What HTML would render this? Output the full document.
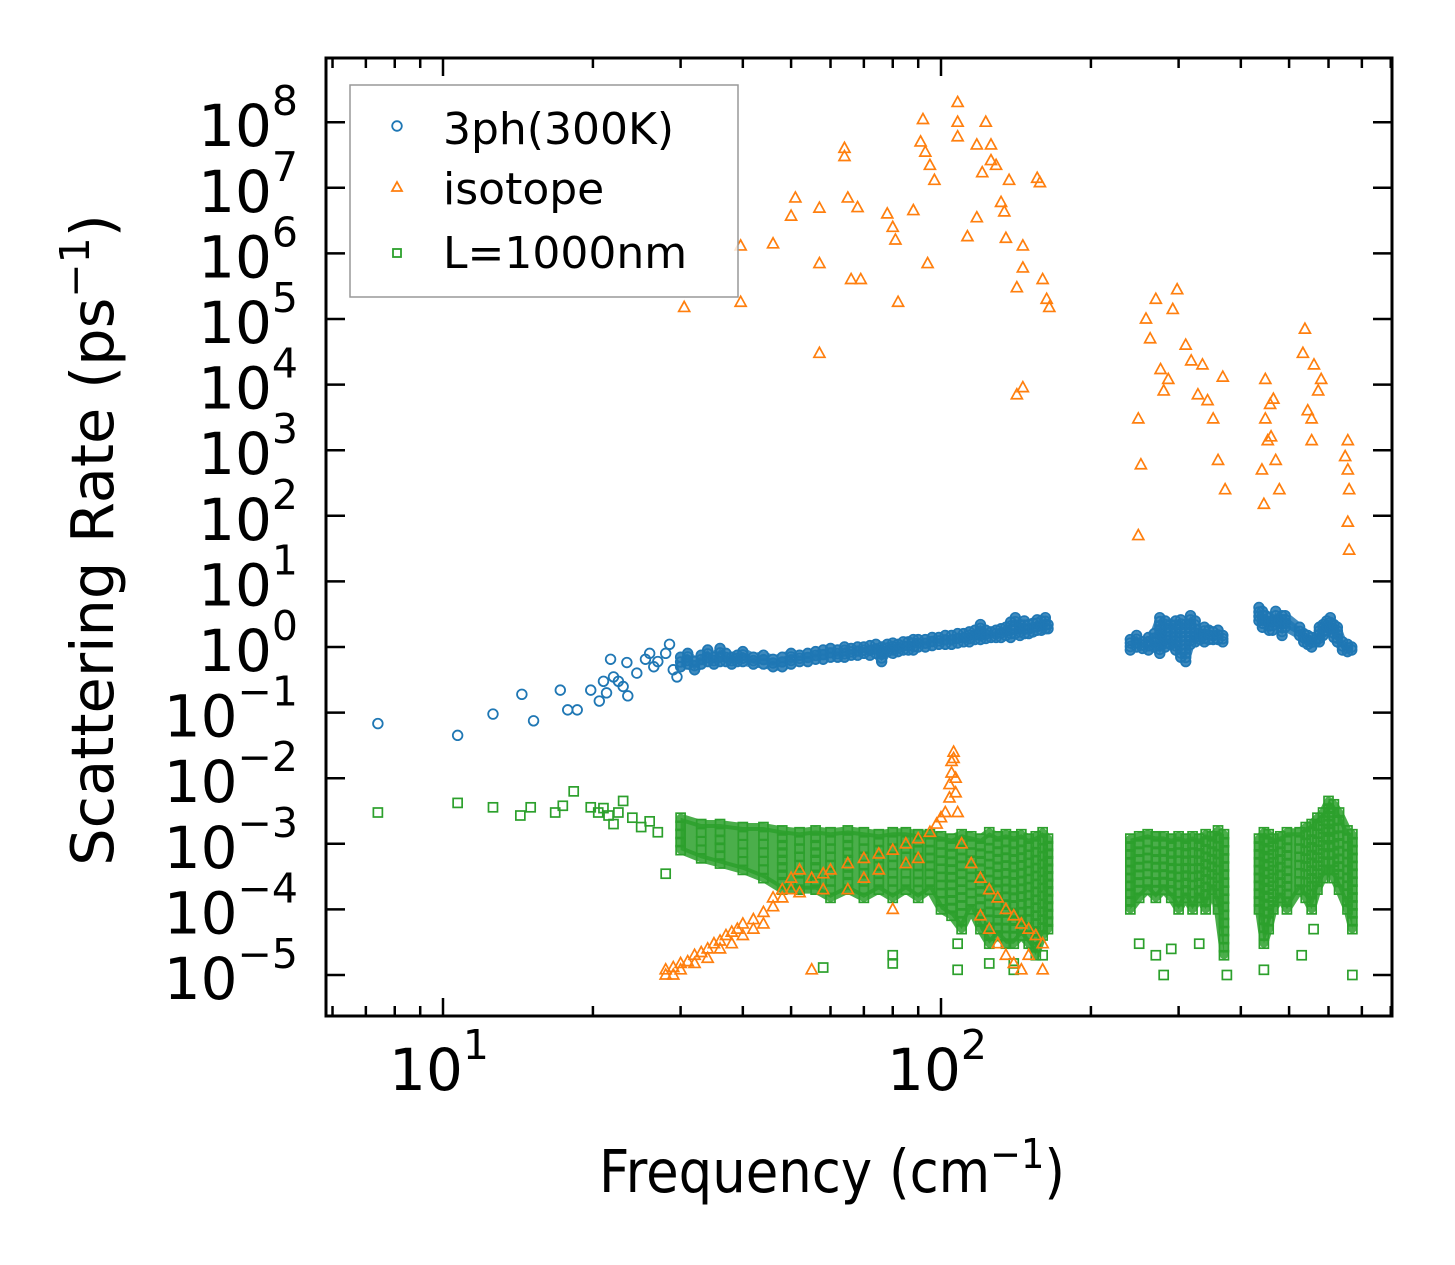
<!DOCTYPE html>
<html><head><meta charset="utf-8"><style>
html,body{margin:0;padding:0;background:#fff;}
svg{display:block;font-family:"DejaVu Sans","Liberation Sans",sans-serif;}
</style></head><body>
<svg id="chart" width="1455" height="1265" viewBox="0 0 1455 1265" xmlns="http://www.w3.org/2000/svg">
<rect width="1455" height="1265" fill="#fff"/>
<g id="plot"></g>
<g id="axes"></g>
<text x="599" y="1192" font-size="59" textLength="466" lengthAdjust="spacingAndGlyphs">Frequency (cm<tspan dy="-24" font-size="41">−1</tspan><tspan dy="24">)</tspan></text>
<text transform="translate(113,540) rotate(-90)" text-anchor="middle" font-size="59">Scattering Rate (ps<tspan dy="-24" font-size="41">−1</tspan><tspan dy="24">)</tspan></text>
<g>
<rect x="350" y="85" width="388" height="212" fill="#fff" fill-opacity="0.8" stroke="#999" stroke-width="1.5"/>
<circle cx="397" cy="126" r="4.8" fill="none" stroke="#1f77b4" stroke-width="1.8"/>
<text x="443" y="144" font-size="44">3ph(300K)</text>
<path d="M397,182 L402,191 L392,191 Z" fill="none" stroke="#ff7f0e" stroke-width="1.8"/>
<text x="443" y="204" font-size="44">isotope</text>
<rect x="393" y="249" width="8" height="8" fill="none" stroke="#2ca02c" stroke-width="1.8"/>
<text x="443" y="268" font-size="44">L=1000nm</text>
</g>
</svg>
<script>
// ---- data ----
const blueFreq = [7.4,10.7,12.6,14.4,15.2,17.2,17.8,18.6,19.8,20.6,21,21.3,21.7,22,22.5,23,23.4,23.5,24.5,25.5,26,26.5,27,28,28.5,29,29.5];
const blueRate = [0.068,0.045,0.095,0.19,0.075,0.22,0.11,0.11,0.22,0.15,0.3,0.2,0.65,0.35,0.3,0.25,0.58,0.18,0.4,0.65,0.8,0.5,0.6,0.8,1.1,0.45,0.35];
const blueBandFreq = [30,31,32,33,34,35,36,37,38,39,40,42,44,46,48,50,52,54,56,58,60,62,64,66,68,70,72,74,76,78,80,82,84,86,88,90,93,96,99,102,105,108,111,114,117,120,123,126,129,132,135,138,141,144,147,150,153,156,159,162,164,
 240,247,254,261,268,275,282,289,296,303,310,317,324,331,338,345,352,360,368,
 435,442,449,456,463,470,477,484,491,
 525,535,545,555,565,575,585,595,605,615,625,640,655,668];
const blueBandLo = [0.5,0.55,0.45,0.55,0.6,0.55,0.6,0.6,0.55,0.6,0.6,0.55,0.55,0.5,0.5,0.55,0.6,0.6,0.65,0.65,0.7,0.7,0.7,0.75,0.75,0.8,0.75,0.8,0.6,0.85,0.8,0.85,0.9,0.9,0.9,1,1,1.05,1.1,1.1,1.1,1.15,1.2,1.2,1.3,1.3,1.35,1.4,1.4,1.4,1.5,1.4,1.6,1.5,1.6,1.6,1.7,1.8,1.8,1.9,1.9,
 0.9,1,0.95,0.9,1,0.8,1,1.1,0.9,0.7,0.6,1.1,1.2,1.3,1.2,1.3,1.3,1.3,1.2,
 2.5,2,2.5,1.8,1.8,2.2,2.3,1.5,2,
 1.5,1.2,1.1,1,1.2,1.2,1.5,1.8,2,1.4,1.2,0.9,0.85,0.9];
const blueBandHi = [0.7,0.8,0.6,0.75,0.9,0.7,0.95,0.8,0.7,0.75,0.85,0.7,0.75,0.65,0.7,0.8,0.75,0.8,0.85,0.9,0.95,0.9,1,0.95,1,1,1.05,1.1,1,1.1,1.15,1.1,1.2,1.2,1.3,1.3,1.3,1.4,1.4,1.5,1.5,1.6,1.6,1.7,1.8,2.2,1.8,1.7,1.8,1.9,2,2.4,2.8,2.2,2.5,2.2,2.3,2.6,2.5,2.8,2.2,
 1.3,1.5,1.2,1.4,1.6,2.8,2.5,2.2,2.5,2.6,2.2,3,2.5,1.6,2,1.8,1.7,1.8,1.5,
 4,3.5,3,2.8,2.5,3.5,2.5,3,3,
 2,1.6,1.5,1.4,1.3,2,2.2,2.5,2.8,2.2,2,1.2,1.1,1];

const isoFreq = [30.5,39.6,39.6,46,50,51,57,57,57,64,64,65,66,68,69,78,80,81,82,88,91,92,93,94,95,97,108,108,108,113,118,121,123,126,129,132,134,135,137,142,146,146,142,146,156,158,160,163,165,118,126,
 249,249,252,258,263,270,276,280,286,292,298,310,318,328,335,343,352,360,368,372,
 448,448,453,441,445,460,470,478,465,458,
 533,538,545,555,561,572,580,555,656,656,660,656,660,648,
 28,28,29,29,30,30,31,32,32,33,34,34,35,36,36,37,38,38,39,40,40,42,42,44,44,46,46,48,48,50,50,52,52,55,55,58,58,60,65,65,70,70,75,75,80,80,85,85,90,90,95,98,100,102,104,104,105,105,106,106,107,107,108,110,115,120,120,125,125,130,130,135,135,140,140,145,145,150,150,155,160,160];
const isoRate = [1.5e5,1.3e6,1.8e5,1.4e6,3.7e6,7e6,4.9e6,7e5,3e4,4e7,3e7,7e6,4e5,5e6,4e5,4e6,2.5e6,1.6e6,1.8e5,4.5e6,5e7,1.1e8,3.5e7,7e5,2.2e7,1.3e7,2e8,1e8,6e7,1.8e6,3.5e6,1.7e7,1e8,4.5e7,2.2e7,6e6,4.3e6,1.7e6,1.3e7,3e5,1.3e6,6e5,7e3,9e3,1.4e7,1.2e7,4e5,2e5,1.5e5,4.5e7,2.6e7,
 3e3,50,600,1e5,5e4,2e5,1.7e4,8e3,1.2e4,1.4e5,2.8e5,4e4,2.3e4,7e3,2e4,5.7e3,3e3,700,1.3e4,250,
 1.2e4,3e3,1.4e3,500,150,1.6e3,700,250,6e3,5e3,
 3e4,7e4,4e3,3e3,2e4,8e3,1.2e4,1.4e3,1.4e3,500,250,80,30,800,
 1e-5,1.2e-5,1.3e-5,1e-5,1.5e-5,1.2e-5,1.6e-5,2e-5,1.5e-5,2.2e-5,2.5e-5,1.8e-5,3e-5,3.3e-5,2.5e-5,4e-5,4.5e-5,3e-5,5e-5,6e-5,4e-5,7e-5,5e-5,9e-5,6e-5,1.1e-4,1.5e-4,1.5e-4,2e-4,2e-4,3e-4,1.8e-4,4e-4,3e-4,1.2e-5,3.5e-4,2e-4,4e-4,5e-4,2e-4,6e-4,3e-4,7e-4,4e-4,8e-4,1e-4,1e-3,5e-4,1.2e-3,6e-4,1.5e-3,2e-3,2.5e-3,3e-3,5e-3,8e-3,1.2e-2,1.8e-2,2.5e-2,2e-2,1e-2,6e-3,3e-3,1e-3,5e-4,3e-4,8e-5,2e-4,5e-5,1.5e-4,3e-5,1e-4,2e-5,8e-5,1.5e-5,6e-5,1.2e-5,5e-5,2e-5,4e-5,1.2e-5,3e-5];

const bndFreq = [7.4,10.7,12.6,14.3,15,16.8,17.4,18.3,19.8,20.5,21,21.5,22,22.5,23,24,25,26,27,28,
 58,80,80,108,108,125,140,140,160,250,270,280,290,330,375,445,530,560,670];
const bndRate = [3e-3,4.2e-3,3.6e-3,2.7e-3,3.6e-3,3e-3,3.8e-3,6.3e-3,3.6e-3,3e-3,3.5e-3,2.7e-3,2e-3,3e-3,4.5e-3,2.5e-3,1.8e-3,2.2e-3,1.5e-3,3.5e-4,
 1.3e-5,1.5e-5,2e-5,1.2e-5,3e-5,1.5e-5,1.2e-5,1.5e-5,2e-5,3e-5,2e-5,1e-5,2.5e-5,3e-5,1e-5,1.2e-5,2e-5,5e-5,1e-5];
const bndBandFreq = [30,33,36,40,44,48,52,56,60,65,70,75,80,85,90,95,100,105,110,115,120,125,130,135,140,145,150,155,160,164,
 240,250,260,270,280,290,300,310,320,330,340,350,360,370,
 435,445,455,465,480,495,
 525,540,555,570,585,600,615,630,655,670];
const bndBandLo = [8e-4,6e-4,5e-4,4e-4,3e-4,2e-4,2e-4,2e-4,1.5e-4,2e-4,1.5e-4,2e-4,1.5e-4,2e-4,1.5e-4,2e-4,1e-4,8e-5,5e-5,1e-4,5e-5,3e-5,4e-5,3e-5,3e-5,4e-5,3e-5,2e-5,4e-5,5e-5,
 1e-4,1.5e-4,2e-4,1.5e-4,2e-4,1.5e-4,1e-4,1.5e-4,1e-4,1.5e-4,1e-4,2e-4,1e-4,2e-5,
 1e-4,3e-5,5e-5,1e-4,1.5e-4,1e-4,
 2e-4,1.5e-4,1e-4,2e-4,3e-4,4e-4,3e-4,2e-4,1e-4,5e-5];
const bndBandHi = [2.5e-3,2e-3,2e-3,1.8e-3,1.8e-3,1.6e-3,1.5e-3,1.6e-3,1.5e-3,1.6e-3,1.5e-3,1.4e-3,1.5e-3,1.5e-3,1.4e-3,1.4e-3,1.3e-3,1.2e-3,1.4e-3,1.3e-3,1.2e-3,1.5e-3,1.3e-3,1.4e-3,1.3e-3,1.4e-3,1.2e-3,1.3e-3,1.5e-3,1.2e-3,
 1.2e-3,1.3e-3,1.4e-3,1.3e-3,1.3e-3,1.2e-3,1.3e-3,1.2e-3,1.3e-3,1.2e-3,1.4e-3,1.3e-3,1.6e-3,1.4e-3,
 1.2e-3,1.5e-3,1.4e-3,1.2e-3,1.3e-3,1.5e-3,
 1.5e-3,1.8e-3,2e-3,2.5e-3,3e-3,4.5e-3,4e-3,3e-3,1.6e-3,1.4e-3];

const yTickExp = [-5,-4,-3,-2,-1,0,1,2,3,4,5,6,7,8];
const xTickExp = [1,2];

// ---- scales ----
const X0=326, X1=1392, Y0=58, Y1=1016;
function X(f){return 443+498*Math.log10(f/10);}
function Y(v){return 647-65.6*Math.log10(v);}
const NS="http://www.w3.org/2000/svg";
const plot=document.getElementById('plot');
const axes=document.getElementById('axes');
function mk(tag,attrs,parent){const e=document.createElementNS(NS,tag);for(const k in attrs)e.setAttribute(k,attrs[k]);parent.appendChild(e);return e;}

const C_B="#1f77b4", C_O="#ff7f0e", C_G="#2ca02c";
function circle(f,v){const e=mk('circle',{cx:X(f),cy:Y(v),r:4.8,fill:'none',stroke:C_B,'stroke-width':1.8},plot);

}
function tri(f,v){const x=X(f),y=Y(v);const e=mk('path',{d:`M${x},${y-6} L${x+5.5},${y+4} L${x-5.5},${y+4} Z`,fill:'none',stroke:C_O,'stroke-width':1.7},plot);

}
function sq(f,v){const e=mk('rect',{x:X(f)-4.5,y:Y(v)-4.5,width:9,height:9,fill:'none',stroke:C_G,'stroke-width':1.7},plot);

}

function band(fr,lo,hi,color,opacity,marker,step,name){
  let seg=[];
  const flush=()=>{ if(seg.length>1){
      let d='M'+seg.map(i=>X(fr[i])+','+Y(hi[i])).join(' L')+' L'+seg.slice().reverse().map(i=>X(fr[i])+','+Y(lo[i])).join(' L')+' Z';
      const p=mk('path',{d:d,fill:color,'fill-opacity':opacity,stroke:color,'stroke-width':8,'stroke-opacity':opacity,'stroke-linejoin':'round'},plot);
      
      
    } seg=[]; };
  for(let i=0;i<fr.length;i++){ if(i>0 && fr[i]/fr[i-1]>1.12) flush(); seg.push(i); }
  flush();
  for(let i=0;i<fr.length;i++){
    const a=Math.log10(lo[i]), b=Math.log10(hi[i]);
    const n=Math.max(1,Math.round((b-a)/step));
    for(let k=0;k<=n;k++) marker(fr[i], Math.pow(10, a+(b-a)*k/n));
  }
}

band(bndBandFreq,bndBandLo,bndBandHi,C_G,0.85,sq,0.12,'band-boundary');
bndFreq.forEach((f,i)=>sq(f,bndRate[i]));
isoFreq.forEach((f,i)=>tri(f,isoRate[i]));
band(blueBandFreq,blueBandLo,blueBandHi,C_B,0.85,circle,0.06,'band-3ph');
blueFreq.forEach((f,i)=>circle(f,blueRate[i]));

const fr=mk('rect',{x:X0,y:Y0,width:X1-X0,height:Y1-Y0,fill:'none',stroke:'#000','stroke-width':3},axes);



yTickExp.forEach(e=>{
  const y=Y(Math.pow(10,e));
  const t1=mk('line',{x1:X0,x2:X0+19,y1:y,y2:y,stroke:'#000','stroke-width':2.5},axes);
  
  
  const t2=mk('line',{x1:X1,x2:X1-19,y1:y,y2:y,stroke:'#000','stroke-width':2.5},axes);
  
  
  const lab=mk('text',{x:298,y:y+24,'text-anchor':'end','font-size':58},axes);
  
  
  lab.innerHTML='10<tspan dy="-31" font-size="41">'+(e<0?'−'+(-e):e)+'</tspan>';
});
for(let d=0; d<3; d++){
  for(let m=1;m<=9;m++){
    const f=m*Math.pow(10,d);
    const x=X(f);
    if(x<X0+1||x>X1-1) continue;
    const L=(m===1)?18:10;
    const a=mk('line',{x1:x,x2:x,y1:Y1,y2:Y1-L,stroke:'#000','stroke-width':2.5},axes);
    
    
    const b=mk('line',{x1:x,x2:x,y1:Y0,y2:Y0+L,stroke:'#000','stroke-width':2.5},axes);
    
    
  }
}
xTickExp.forEach(e=>{
  const x=X(Math.pow(10,e));
  const lab=mk('text',{x:x-4,y:1090,'text-anchor':'middle','font-size':58},axes);
  
  
  lab.innerHTML='10<tspan dy="-31" font-size="41">'+e+'</tspan>';
});
</script>
</body></html>
